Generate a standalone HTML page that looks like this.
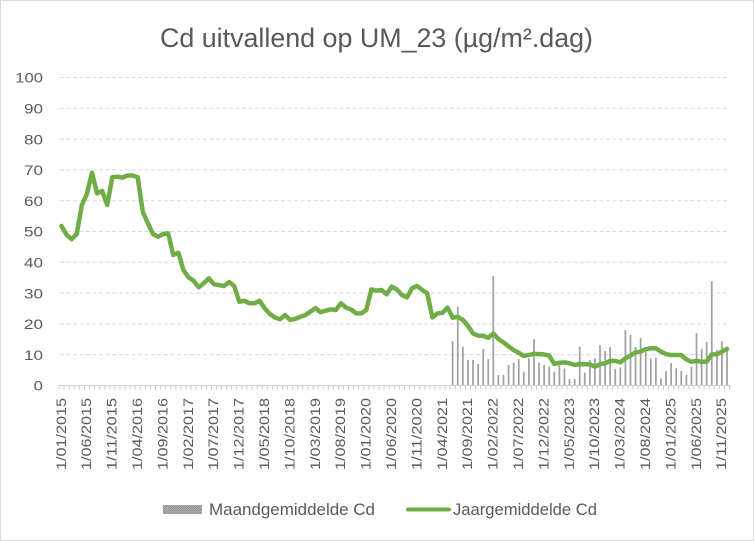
<!DOCTYPE html>
<html>
<head>
<meta charset="utf-8">
<style>
  html, body { margin: 0; padding: 0; background: #ffffff; }
  svg { display: block; }
  text { font-family: "Liberation Sans", "DejaVu Sans", sans-serif; fill: #595959; }
</style>
</head>
<body>
<svg width="754" height="541" viewBox="0 0 754 541" xmlns="http://www.w3.org/2000/svg">
  <rect x="0" y="0" width="754" height="541" fill="#ffffff"/>
  <rect x="0.5" y="0.5" width="753" height="540" fill="none" stroke="#D9D9D9" stroke-width="1"/>

  <!-- Title -->
  <text x="160" y="47" font-size="26.5" textLength="433" lengthAdjust="spacingAndGlyphs">Cd uitvallend op UM_23 (µg/m².dag)</text>

  <!-- Gridlines -->
  <g stroke="#D9D9D9" stroke-width="1" stroke-dasharray="4 2.5">
    <line x1="60" y1="354.7" x2="730" y2="354.7"/>
    <line x1="60" y1="323.9" x2="730" y2="323.9"/>
    <line x1="60" y1="293.1" x2="730" y2="293.1"/>
    <line x1="60" y1="262.3" x2="730" y2="262.3"/>
    <line x1="60" y1="231.5" x2="730" y2="231.5"/>
    <line x1="60" y1="200.7" x2="730" y2="200.7"/>
    <line x1="60" y1="169.9" x2="730" y2="169.9"/>
    <line x1="60" y1="139.1" x2="730" y2="139.1"/>
    <line x1="60" y1="108.3" x2="730" y2="108.3"/>
    <line x1="60" y1="77.5" x2="730" y2="77.5"/>
  </g>

  <!-- Y labels -->
  <g font-size="14" text-anchor="end">
    <text x="43" y="390.7" textLength="9.3" lengthAdjust="spacingAndGlyphs">0</text>
    <text x="43" y="359.9" textLength="19" lengthAdjust="spacingAndGlyphs">10</text>
    <text x="43" y="329.1" textLength="19" lengthAdjust="spacingAndGlyphs">20</text>
    <text x="43" y="298.3" textLength="19" lengthAdjust="spacingAndGlyphs">30</text>
    <text x="43" y="267.5" textLength="19" lengthAdjust="spacingAndGlyphs">40</text>
    <text x="43" y="236.7" textLength="19" lengthAdjust="spacingAndGlyphs">50</text>
    <text x="43" y="205.9" textLength="19" lengthAdjust="spacingAndGlyphs">60</text>
    <text x="43" y="175.1" textLength="19" lengthAdjust="spacingAndGlyphs">70</text>
    <text x="43" y="144.3" textLength="19" lengthAdjust="spacingAndGlyphs">80</text>
    <text x="43" y="113.5" textLength="19" lengthAdjust="spacingAndGlyphs">90</text>
    <text x="43" y="82.7" textLength="27.7" lengthAdjust="spacingAndGlyphs">100</text>
  </g>

  <!-- Bars (monthly) -->
  <g transform="translate(61.5,385.5) scale(5.08,-3.08)" fill="#A3A3A3">
    <rect x="76.83" y="0" width="0.35" height="14.4"/>
    <rect x="77.83" y="0" width="0.35" height="25.6"/>
    <rect x="78.83" y="0" width="0.35" height="12.6"/>
    <rect x="79.83" y="0" width="0.35" height="8.3"/>
    <rect x="80.83" y="0" width="0.35" height="8.3"/>
    <rect x="81.83" y="0" width="0.35" height="7.0"/>
    <rect x="82.83" y="0" width="0.35" height="11.9"/>
    <rect x="83.83" y="0" width="0.35" height="8.6"/>
    <rect x="84.83" y="0" width="0.35" height="35.5"/>
    <rect x="85.83" y="0" width="0.35" height="3.4"/>
    <rect x="86.83" y="0" width="0.35" height="3.4"/>
    <rect x="87.83" y="0" width="0.35" height="6.7"/>
    <rect x="88.83" y="0" width="0.35" height="7.4"/>
    <rect x="89.83" y="0" width="0.35" height="8.6"/>
    <rect x="90.83" y="0" width="0.35" height="4.5"/>
    <rect x="91.83" y="0" width="0.35" height="8.8"/>
    <rect x="92.83" y="0" width="0.35" height="15.1"/>
    <rect x="93.83" y="0" width="0.35" height="7.4"/>
    <rect x="94.83" y="0" width="0.35" height="6.7"/>
    <rect x="95.83" y="0" width="0.35" height="6.1"/>
    <rect x="96.83" y="0" width="0.35" height="4.5"/>
    <rect x="97.83" y="0" width="0.35" height="6.7"/>
    <rect x="98.83" y="0" width="0.35" height="5.5"/>
    <rect x="99.83" y="0" width="0.35" height="2.1"/>
    <rect x="100.83" y="0" width="0.35" height="2.1"/>
    <rect x="101.83" y="0" width="0.35" height="12.6"/>
    <rect x="102.83" y="0" width="0.35" height="4.2"/>
    <rect x="103.83" y="0" width="0.35" height="8.3"/>
    <rect x="104.83" y="0" width="0.35" height="8.8"/>
    <rect x="105.83" y="0" width="0.35" height="13.1"/>
    <rect x="106.83" y="0" width="0.35" height="11.2"/>
    <rect x="107.83" y="0" width="0.35" height="12.5"/>
    <rect x="108.83" y="0" width="0.35" height="5.4"/>
    <rect x="109.83" y="0" width="0.35" height="5.8"/>
    <rect x="110.83" y="0" width="0.35" height="18.0"/>
    <rect x="111.83" y="0" width="0.35" height="16.4"/>
    <rect x="112.83" y="0" width="0.35" height="12.5"/>
    <rect x="113.83" y="0" width="0.35" height="15.5"/>
    <rect x="114.83" y="0" width="0.35" height="11.0"/>
    <rect x="115.83" y="0" width="0.35" height="8.8"/>
    <rect x="116.83" y="0" width="0.35" height="9.0"/>
    <rect x="117.83" y="0" width="0.35" height="2.3"/>
    <rect x="118.83" y="0" width="0.35" height="4.7"/>
    <rect x="119.83" y="0" width="0.35" height="7.3"/>
    <rect x="120.83" y="0" width="0.35" height="5.6"/>
    <rect x="121.83" y="0" width="0.35" height="4.7"/>
    <rect x="122.83" y="0" width="0.35" height="3.4"/>
    <rect x="123.83" y="0" width="0.35" height="6.1"/>
    <rect x="124.83" y="0" width="0.35" height="17.0"/>
    <rect x="125.83" y="0" width="0.35" height="11.9"/>
    <rect x="126.83" y="0" width="0.35" height="14.2"/>
    <rect x="127.83" y="0" width="0.35" height="33.9"/>
    <rect x="128.83" y="0" width="0.35" height="11.5"/>
    <rect x="129.83" y="0" width="0.35" height="14.4"/>
    <rect x="130.83" y="0" width="0.35" height="11.8"/>
  </g>

  <!-- X axis line and ticks -->
  <line x1="59" y1="385.5" x2="730" y2="385.5" stroke="#D0D0D0" stroke-width="1"/>
  <line x1="58.5" y1="387.5" x2="730.5" y2="387.5" stroke="#C8C8C8" stroke-width="4" stroke-dasharray="1 4.08"/>

  <!-- Line (yearly average) -->
  <g transform="translate(61.5,385.5) scale(5.08,-3.08)">
    <polyline fill="none" stroke="#70AD47" stroke-width="4.5" stroke-linejoin="round" stroke-linecap="round" vector-effect="non-scaling-stroke"
      points="0,51.8 1,48.9 2,47.5 3,49.2 4,58.6 5,62.2 6,69.1 7,62.4 8,63.2 9,58.6 10,67.6 11,67.8 12,67.5 13,68.2 14,68.2 15,67.6 16,56.4 17,52.7 18,49.2 19,48.3 20,49.2 21,49.4 22,42.4 23,43.1 24,37.5 25,35.1 26,34.0 27,31.9 28,33.2 29,34.8 30,32.9 31,32.6 32,32.3 33,33.6 34,32.3 35,27.2 36,27.5 37,26.7 38,26.7 39,27.5 40,25.1 41,23.2 42,22.1 43,21.5 44,22.9 45,21.3 46,21.6 47,22.3 48,22.9 49,24.0 50,25.1 51,23.8 52,24.3 53,24.7 54,24.5 55,26.7 56,25.3 57,24.7 58,23.4 59,23.4 60,24.5 61,31.2 62,30.8 63,31.0 64,29.6 65,32.1 66,31.2 67,29.4 68,28.6 69,31.6 70,32.3 71,31.0 72,29.9 73,22.1 74,23.4 75,23.6 76,25.3 77,22.0 78,22.3 79,21.3 80,19.4 81,16.9 82,16.2 83,16.1 84,15.5 85,16.9 86,15.1 87,14.0 88,12.7 89,11.5 90,10.6 91,9.6 92,9.9 93,10.3 94,10.2 95,10.1 96,9.7 97,7.0 98,7.4 99,7.5 100,7.2 101,6.7 102,6.9 103,6.9 104,6.9 105,6.1 106,6.9 107,7.2 108,8.0 109,8.0 110,7.5 111,8.8 112,9.7 113,10.8 114,11.0 115,11.8 116,12.1 117,12.1 118,11.0 119,10.2 120,9.9 121,9.9 122,9.9 123,8.5 124,7.7 125,8.0 126,7.7 127,7.7 128,10.1 129,10.1 130,11.0 131,11.9"/>
  </g>

  <!-- X labels (rotated) -->
  <g font-size="13.4" text-anchor="end">
    <text transform="translate(65.8,398) rotate(-90)" textLength="72" lengthAdjust="spacingAndGlyphs">1/01/2015</text>
    <text transform="translate(91.2,398) rotate(-90)" textLength="72" lengthAdjust="spacingAndGlyphs">1/06/2015</text>
    <text transform="translate(116.6,398) rotate(-90)" textLength="72" lengthAdjust="spacingAndGlyphs">1/11/2015</text>
    <text transform="translate(142.0,398) rotate(-90)" textLength="72" lengthAdjust="spacingAndGlyphs">1/04/2016</text>
    <text transform="translate(167.4,398) rotate(-90)" textLength="72" lengthAdjust="spacingAndGlyphs">1/09/2016</text>
    <text transform="translate(192.8,398) rotate(-90)" textLength="72" lengthAdjust="spacingAndGlyphs">1/02/2017</text>
    <text transform="translate(218.2,398) rotate(-90)" textLength="72" lengthAdjust="spacingAndGlyphs">1/07/2017</text>
    <text transform="translate(243.6,398) rotate(-90)" textLength="72" lengthAdjust="spacingAndGlyphs">1/12/2017</text>
    <text transform="translate(269.0,398) rotate(-90)" textLength="72" lengthAdjust="spacingAndGlyphs">1/05/2018</text>
    <text transform="translate(294.4,398) rotate(-90)" textLength="72" lengthAdjust="spacingAndGlyphs">1/10/2018</text>
    <text transform="translate(319.8,398) rotate(-90)" textLength="72" lengthAdjust="spacingAndGlyphs">1/03/2019</text>
    <text transform="translate(345.2,398) rotate(-90)" textLength="72" lengthAdjust="spacingAndGlyphs">1/08/2019</text>
    <text transform="translate(370.6,398) rotate(-90)" textLength="72" lengthAdjust="spacingAndGlyphs">1/01/2020</text>
    <text transform="translate(396.0,398) rotate(-90)" textLength="72" lengthAdjust="spacingAndGlyphs">1/06/2020</text>
    <text transform="translate(421.4,398) rotate(-90)" textLength="72" lengthAdjust="spacingAndGlyphs">1/11/2020</text>
    <text transform="translate(446.8,398) rotate(-90)" textLength="72" lengthAdjust="spacingAndGlyphs">1/04/2021</text>
    <text transform="translate(472.2,398) rotate(-90)" textLength="72" lengthAdjust="spacingAndGlyphs">1/09/2021</text>
    <text transform="translate(497.6,398) rotate(-90)" textLength="72" lengthAdjust="spacingAndGlyphs">1/02/2022</text>
    <text transform="translate(523.0,398) rotate(-90)" textLength="72" lengthAdjust="spacingAndGlyphs">1/07/2022</text>
    <text transform="translate(548.4,398) rotate(-90)" textLength="72" lengthAdjust="spacingAndGlyphs">1/12/2022</text>
    <text transform="translate(573.8,398) rotate(-90)" textLength="72" lengthAdjust="spacingAndGlyphs">1/05/2023</text>
    <text transform="translate(599.2,398) rotate(-90)" textLength="72" lengthAdjust="spacingAndGlyphs">1/10/2023</text>
    <text transform="translate(624.6,398) rotate(-90)" textLength="72" lengthAdjust="spacingAndGlyphs">1/03/2024</text>
    <text transform="translate(650.0,398) rotate(-90)" textLength="72" lengthAdjust="spacingAndGlyphs">1/08/2024</text>
    <text transform="translate(675.4,398) rotate(-90)" textLength="72" lengthAdjust="spacingAndGlyphs">1/01/2025</text>
    <text transform="translate(700.8,398) rotate(-90)" textLength="72" lengthAdjust="spacingAndGlyphs">1/06/2025</text>
    <text transform="translate(726.2,398) rotate(-90)" textLength="72" lengthAdjust="spacingAndGlyphs">1/11/2025</text>
  </g>

  <!-- Legend -->
  <defs>
    <pattern id="dots" width="2" height="2" patternUnits="userSpaceOnUse">
      <rect width="2" height="2" fill="#B0B0B0"/>
      <rect width="1" height="1" fill="#8C8C8C"/>
      <rect x="1" y="1" width="1" height="1" fill="#9A9A9A"/>
    </pattern>
  </defs>
  <rect x="163" y="505" width="39" height="9" fill="url(#dots)"/>
  <text x="209" y="515" font-size="16.8" textLength="166" lengthAdjust="spacingAndGlyphs">Maandgemiddelde Cd</text>
  <line x1="408" y1="509.5" x2="449" y2="509.5" stroke="#70AD47" stroke-width="4" stroke-linecap="round"/>
  <text x="453" y="515" font-size="16.8" textLength="144" lengthAdjust="spacingAndGlyphs">Jaargemiddelde Cd</text>
</svg>
</body>
</html>
